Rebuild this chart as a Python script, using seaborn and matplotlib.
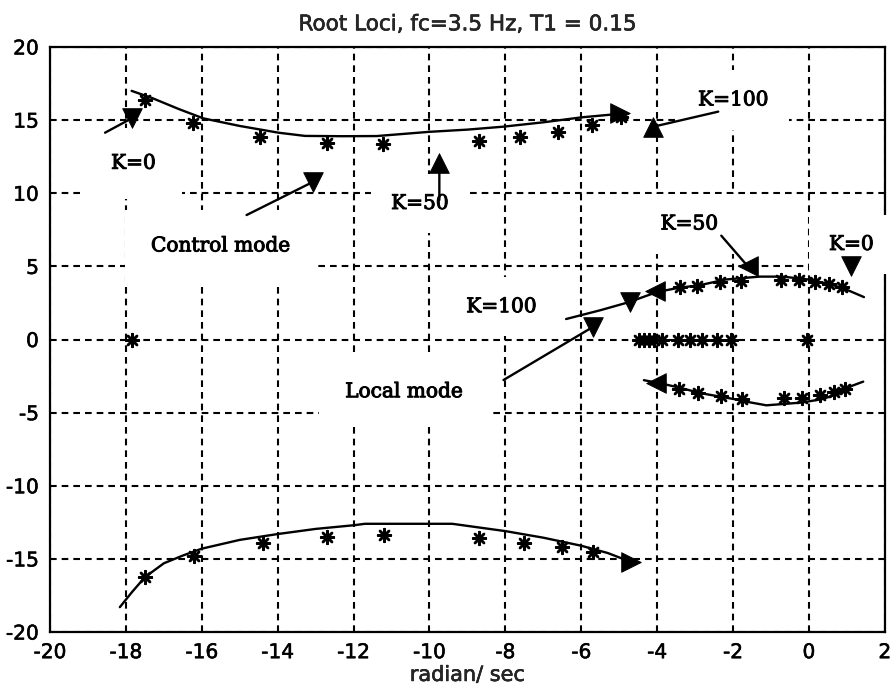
import matplotlib
matplotlib.use("Agg")
import matplotlib.pyplot as plt
import matplotlib.patheffects as pe
import seaborn as sns

# ---------------- data ----------------
# control mode, upper branch (line)
ctrl_up_x = [-17.85, -17.3, -16.6, -15.96, -15.0, -13.98, -13.28, -12.3, -11.39, -10.0, -9.0, -8.06, -7.0, -5.99, -4.9]
ctrl_up_y = [17.0, 16.5, 15.75, 15.12, 14.6, 14.14, 13.92, 13.9, 13.91, 14.2, 14.35, 14.55, 14.85, 15.19, 15.45]
# control mode, lower branch (line)
ctrl_lo_x = [-18.16, -17.85, -17.5, -17.0, -16.5, -16.0, -15.0, -14.0, -13.0, -12.0, -11.7, -10.5, -9.4, -8.0, -7.0, -6.0, -5.3, -4.7]
ctrl_lo_y = [-18.3, -17.3, -16.25, -15.3, -14.77, -14.3, -13.7, -13.3, -12.95, -12.7, -12.6, -12.6, -12.6, -13.1, -13.55, -14.1, -14.6, -15.2]
# local mode, upper branch (line)
loc_up_x = [-6.4, -5.5, -4.75, -4.0, -3.4, -2.9, -2.2, -1.3, -0.7, 0.0, 0.6, 1.0, 1.45]
loc_up_y = [1.4, 2.0, 2.55, 3.25, 3.55, 3.7, 4.1, 4.3, 4.3, 4.1, 3.75, 3.4, 2.9]
# local mode, lower branch (line)
loc_lo_x = [-4.35, -3.82, -3.4, -2.85, -1.96, -1.61, -1.12, -0.19, 0.34, 0.8, 1.13, 1.43]
loc_lo_y = [-2.78, -3.05, -3.3, -3.67, -4.08, -4.27, -4.5, -4.31, -4.08, -3.7, -3.17, -2.88]

# asterisk points
star_x = [-17.5, -16.22, -14.47, -12.71, -11.22, -8.69, -7.62, -6.61, -5.73, -4.94,
          -17.5, -16.2, -14.4, -12.7, -11.2, -8.7, -7.5, -6.5, -5.7,
          -3.41, -2.96, -2.35, -1.78, -0.74, -0.26, 0.17, 0.52, 0.87,
          -3.42, -2.92, -2.32, -1.77, -0.65, -0.19, 0.29, 0.65, 0.94,
          -4.49, -4.35, -4.22, -4.09, -3.87, -3.45, -3.13, -2.81, -2.41, -2.05, -0.06,
          -17.85]
star_y = [16.38, 14.78, 13.82, 13.41, 13.37, 13.57, 13.82, 14.21, 14.67, 15.19,
          -16.25, -14.8, -13.9, -13.5, -13.4, -13.6, -13.9, -14.2, -14.5,
          3.57, 3.68, 3.91, 4.02, 4.09, 4.09, 3.91, 3.8, 3.57,
          -3.39, -3.67, -3.85, -4.04, -3.97, -3.97, -3.81, -3.58, -3.39,
          0, 0, 0, 0, 0, 0, 0, 0, 0, 0, 0,
          0]

# triangle markers
tri_down_x = [-17.85, -13.06, -5.68, -4.72, 1.1]
tri_down_y = [15.12, 10.79, 0.88, 2.55, 5.0]
tri_up_x = [-9.74, -4.1]
tri_up_y = [12.05, 14.55]
tri_left_x = [-1.61, -4.05, -4.04]
tri_left_y = [5.0, 3.3, -2.94]
tri_right_x = [-4.98, -4.7]
tri_right_y = [15.47, -15.2]

# annotation texts
ann_text = ["K=0", "Control mode", "K=50", "K=100", "K=50", "K=0", "K=100", "Local mode"]
ann_x = [-17.8, -15.5, -10.25, -1.99, -3.15, 1.12, -8.1, -10.67]
ann_y = [12.05, 6.4, 9.3, 16.38, 7.9, 6.5, 2.24, -3.57]
ann_pad = [1.3, 1.3, 1.0, 1.0, 1.0, 1.0, 1.0, 1.3]

# pointer lines (start -> tip)
arrow_x0 = [-18.55, -14.82, -9.74, -2.39, -2.31, -8.05]
arrow_y0 = [14.14, 8.51, 9.54, 15.58, 7.1, -2.77]
arrow_x1 = [-17.85, -13.06, -9.74, -4.1, -1.61, -5.68]
arrow_y1 = [15.12, 10.79, 12.05, 14.55, 5.0, 0.88]

x_ticks = list(range(-20, 3, 2))
y_ticks = list(range(-20, 21, 5))

# ---------------- drawing ----------------
sns.set_theme(style="white")
plt.rcParams["font.family"] = ["DejaVu Sans"]
plt.rcParams["axes.unicode_minus"] = False

thick = [pe.withStroke(linewidth=0.7, foreground="black")]

fig = plt.figure(figsize=(8.9, 6.95), dpi=100)
ax = fig.add_axes([0.0562, 0.0906, 0.938, 0.8418])

for cx, cy in [(ctrl_up_x, ctrl_up_y), (ctrl_lo_x, ctrl_lo_y),
               (loc_up_x, loc_up_y), (loc_lo_x, loc_lo_y)]:
    sns.lineplot(x=cx, y=cy, sort=False, estimator=None, color="black",
                 linewidth=1.7, ax=ax, zorder=4)

sns.scatterplot(x=star_x, y=star_y, marker=(8, 2, 0), s=85, color="black",
                edgecolor="black", linewidth=1.8, ax=ax, zorder=5)

for tx, ty, mk in [(tri_down_x, tri_down_y, "v"), (tri_up_x, tri_up_y, "^"),
                   (tri_left_x, tri_left_y, "<"), (tri_right_x, tri_right_y, ">")]:
    sns.scatterplot(x=tx, y=ty, marker=mk, s=200, color="black",
                    edgecolor="black", linewidth=0.6, ax=ax, zorder=6)

for x0, y0, x1, y1 in zip(arrow_x0, arrow_y0, arrow_x1, arrow_y1):
    ax.annotate("", xy=(x1, y1), xytext=(x0, y0),
                arrowprops=dict(arrowstyle="-", color="black", lw=1.7,
                                shrinkA=0, shrinkB=0), zorder=5)

for t, x, y, p in zip(ann_text, ann_x, ann_y, ann_pad):
    ax.text(x, y, t, family="DejaVu Serif", fontsize=14.5, color="black",
            ha="center", va="center", zorder=3, path_effects=thick,
            bbox=dict(boxstyle=f"square,pad={p}", fc="white", ec="none"))

ax.set_xlim(-20, 2)
ax.set_ylim(-20, 20)
ax.set_xticks(x_ticks)
ax.set_xticklabels([str(v) for v in x_ticks])
ax.set_yticks(y_ticks)
ax.set_yticklabels([str(v) for v in y_ticks])
ax.grid(True, color="black", linestyle=(0, (3.2, 2.4)), linewidth=1.5)
ax.set_axisbelow(True)
for s in ax.spines.values():
    s.set_visible(True)
    s.set_color("black")
    s.set_linewidth(1.6)
ax.tick_params(direction="in", length=4, width=1, labelsize=14.5, pad=8,
               colors="black")
for lab in ax.get_xticklabels() + ax.get_yticklabels():
    lab.set_path_effects([pe.withStroke(linewidth=0.4, foreground="black")])
title = ax.set_title("Root Loci, fc=3.5 Hz, T1 = 0.15", fontsize=15.5, pad=12)
title.set_path_effects([pe.withStroke(linewidth=0.4, foreground="black")])
xl = ax.set_xlabel("radian/ sec", fontsize=15, labelpad=2)
xl.set_path_effects([pe.withStroke(linewidth=0.4, foreground="black")])
ax.set_ylabel("")

fig.savefig("out.png", dpi=100, facecolor="white")
